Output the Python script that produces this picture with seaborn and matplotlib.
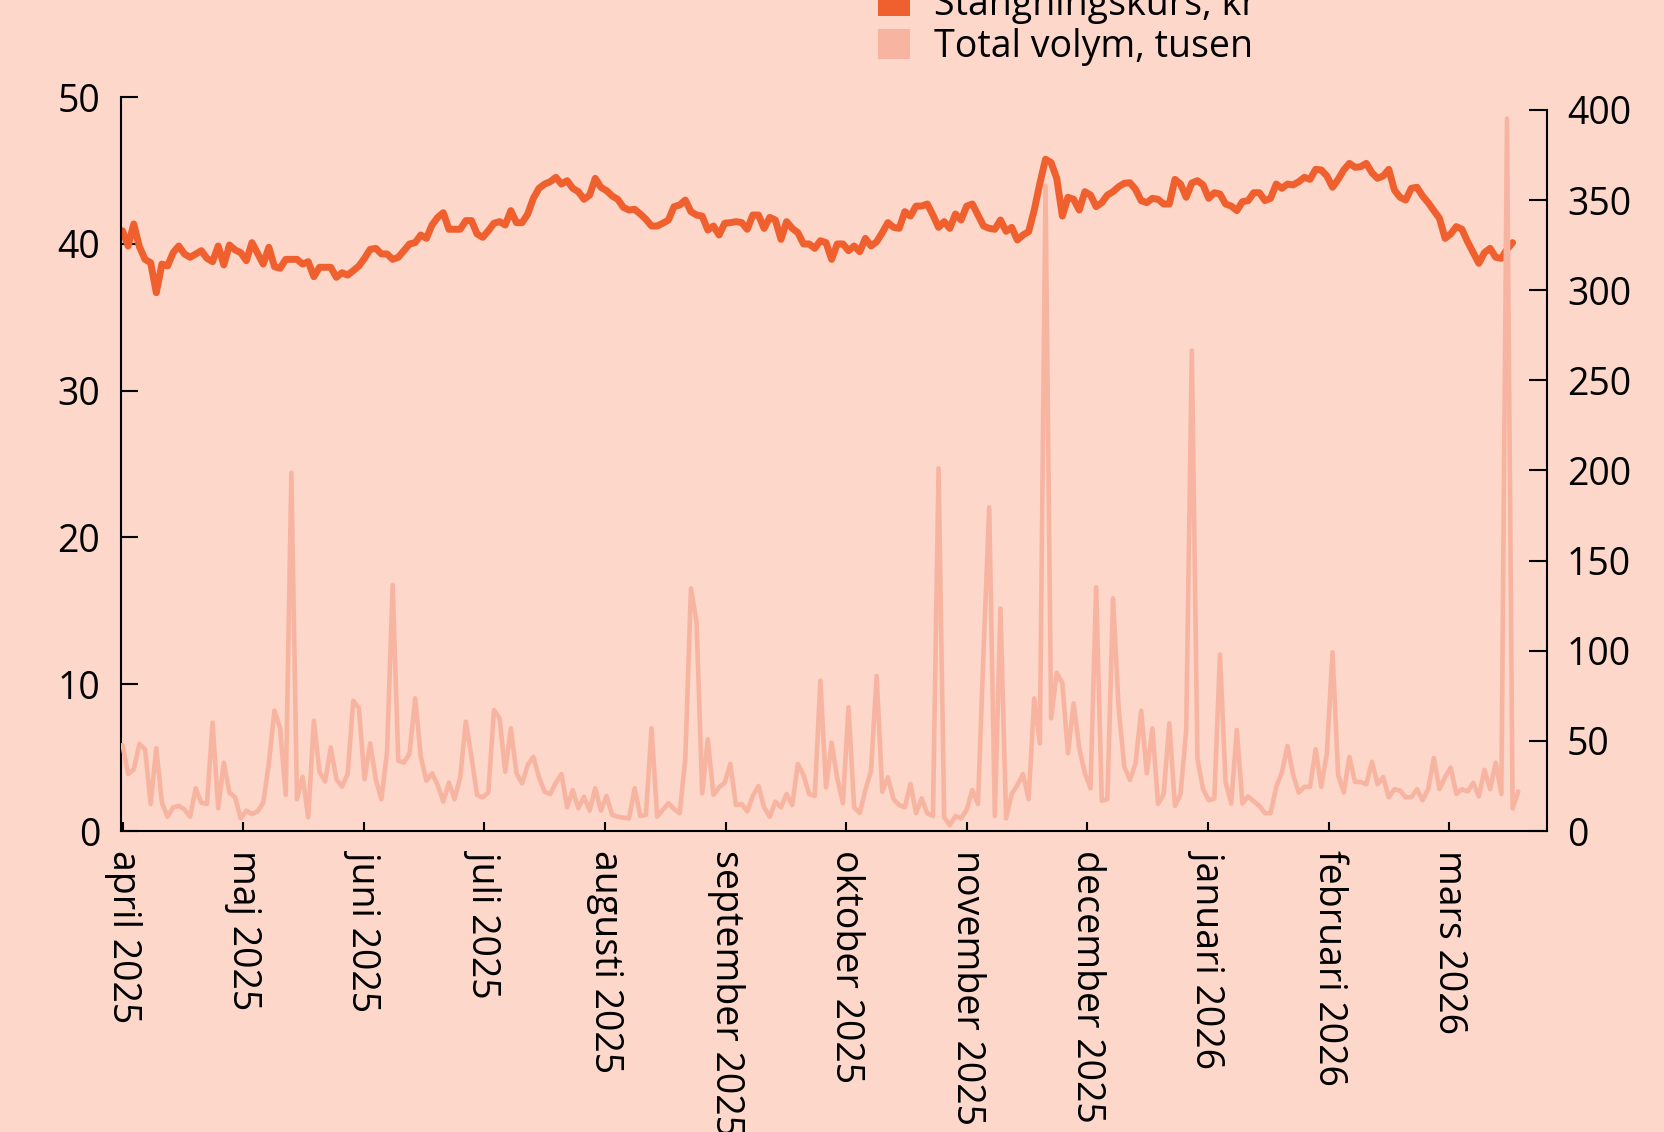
import numpy as np
import pandas as pd
import matplotlib
matplotlib.use("Agg")
import matplotlib.pyplot as plt
import seaborn as sns
from matplotlib.patches import Patch

# Month labels along the time axis
months = ["april 2025", "maj 2025", "juni 2025", "juli 2025", "augusti 2025",
          "september 2025", "oktober 2025", "november 2025", "december 2025",
          "januari 2026", "februari 2026", "mars 2026"]

# Daily closing price (kr), one value per trading day
price = [
    40.89, 39.85, 41.35, 39.80, 38.94, 38.71, 36.67, 38.62, 38.49, 39.40,
    39.85, 39.31, 39.08, 39.30, 39.53, 39.01, 38.78, 39.85, 38.56, 39.92,
    39.58, 39.40, 38.85, 40.08, 39.35, 38.62, 39.76, 38.44, 38.33, 38.94,
    38.94, 38.94, 38.62, 38.78, 37.76, 38.40, 38.40, 38.40, 37.72, 38.03,
    37.87, 38.17, 38.49, 39.01, 39.62, 39.69, 39.31, 39.31, 38.94, 39.08,
    39.53, 39.99, 40.08, 40.60, 40.37, 41.28, 41.80, 42.12, 40.99, 40.99,
    40.99, 41.58, 41.58, 40.67, 40.44, 40.89, 41.40, 41.51, 41.28, 42.26,
    41.44, 41.44, 42.03, 43.10, 43.78, 44.07, 44.23, 44.53, 44.07, 44.30,
    43.78, 43.55, 43.03, 43.32, 44.46, 43.85, 43.62, 43.26, 43.03, 42.48,
    42.30, 42.35, 42.03, 41.67, 41.21, 41.21, 41.40, 41.62, 42.53, 42.64,
    42.98, 42.19, 41.96, 41.89, 40.94, 41.21, 40.60, 41.40, 41.44, 41.51,
    41.45, 40.99, 41.96, 41.96, 41.05, 41.80, 41.62, 40.30, 41.51, 41.05,
    40.76, 39.99, 39.99, 39.69, 40.21, 40.08, 38.94, 39.99, 39.99, 39.53,
    39.85, 39.46, 40.37, 39.85, 40.14, 40.76, 41.44, 41.12, 41.05, 42.19,
    41.89, 42.57, 42.57, 42.71, 41.96, 41.12, 41.51, 41.05, 42.03, 41.62,
    42.57, 42.71, 41.96, 41.21, 41.05, 40.99, 41.62, 40.85, 41.12, 40.26,
    40.60, 40.82, 42.30, 44.12, 45.76, 45.53, 44.46, 41.89, 43.17, 43.03,
    42.30, 43.55, 43.32, 42.53, 42.80, 43.32, 43.55, 43.89, 44.12, 44.16,
    43.71, 42.94, 42.80, 43.10, 43.03, 42.71, 42.71, 44.39, 44.07, 43.17,
    44.14, 44.30, 44.01, 43.10, 43.48, 43.39, 42.71, 42.57, 42.26, 42.87,
    42.94, 43.48, 43.48, 42.94, 43.10, 44.07, 43.78, 44.07, 44.01, 44.23,
    44.53, 44.39, 45.07, 45.03, 44.62, 43.85, 44.39, 45.03, 45.48, 45.21,
    45.25, 45.48, 44.84, 44.46, 44.62, 45.07, 43.66, 43.17, 42.98, 43.78,
    43.85, 43.26, 42.80, 42.26, 41.74, 40.37, 40.67, 41.17, 40.99, 40.14,
    39.40, 38.67, 39.40, 39.69, 39.08, 39.01, 39.62, 40.08,
]

# Daily traded volume (thousands of shares)
volume = [
    47.7, 31.6, 34.2, 48.3, 45.3, 15.0, 45.9, 15.7, 7.9, 13.1,
    13.9, 12.0, 7.9, 23.7, 15.7, 15.0, 60.1, 12.6, 37.9, 21.3,
    18.7, 7.0, 11.3, 9.4, 10.9, 15.7, 37.5, 66.8, 57.0, 20.0,
    198.8, 17.6, 30.1, 7.6, 61.2, 32.9, 27.4, 46.4, 28.7, 24.6,
    31.6, 72.3, 68.1, 28.7, 48.6, 28.7, 17.6, 44.0, 136.5, 39.0,
    37.9, 43.1, 73.6, 41.2, 27.9, 32.0, 25.5, 16.3, 26.8, 17.6,
    29.8, 60.7, 41.2, 20.0, 18.7, 21.3, 67.1, 62.5, 32.9, 57.0,
    32.0, 26.4, 36.6, 41.2, 29.8, 21.8, 20.5, 26.8, 31.6, 13.1,
    22.7, 12.6, 19.0, 11.3, 23.7, 11.3, 19.4, 8.9, 7.9, 7.4,
    7.0, 23.7, 8.3, 8.9, 57.0, 7.9, 11.7, 15.4, 12.2, 9.8,
    40.3, 134.6, 116.1, 20.9, 50.9, 20.0, 24.2, 26.8, 37.2, 14.4,
    15.0, 10.9, 19.4, 25.0, 13.1, 7.9, 16.3, 13.1, 20.5, 14.4,
    37.2, 31.1, 20.5, 19.4, 83.4, 24.2, 49.0, 29.2, 15.4, 68.6,
    13.1, 10.0, 22.7, 33.5, 86.0, 21.8, 29.8, 17.6, 14.4, 13.1,
    26.1, 10.0, 18.1, 9.8, 8.3, 201.2, 7.6, 3.3, 8.3, 7.0,
    11.7, 22.7, 15.0, 100.0, 179.6, 8.3, 123.5, 7.0, 20.5, 25.5,
    31.6, 17.6, 73.6, 48.6, 358.0, 62.5, 87.8, 81.9, 43.1, 70.8,
    45.9, 32.0, 23.7, 135.2, 16.8, 17.6, 129.1, 68.1, 35.7, 28.3,
    37.5, 66.8, 32.0, 57.0, 15.0, 20.5, 59.7, 13.9, 20.5, 56.0,
    266.5, 40.0, 23.2, 17.1, 17.9, 97.9, 27.2, 15.2, 56.0, 15.2,
    19.2, 16.5, 13.9, 9.9, 9.9, 24.5, 32.5, 47.2, 31.2, 21.3,
    24.5, 24.5, 45.3, 24.5, 43.2, 99.2, 31.2, 21.3, 41.1, 27.2,
    27.2, 25.9, 38.4, 25.9, 29.9, 18.7, 23.2, 22.4, 18.7, 18.7,
    23.2, 17.1, 23.2, 40.5, 23.2, 29.9, 35.2, 20.5, 23.2, 21.9,
    26.7, 19.2, 33.9, 23.2, 37.9, 20.5, 395.2, 12.5, 21.9,
]

legend_labels = ["Stängningskurs, kr", "Total volym, tusen"]

BG = "#FCD7CA"
PRICE_C = "#F05F2E"
VOL_C = "#F7B5A1"
INK = "#000000"

# trading days per month on the time axis
DAYS_PER_MONTH = 21.43

sns.set_theme(style="ticks")
plt.rcParams["font.family"] = ["Open Sans", "DejaVu Sans"]
plt.rcParams.update({
    "axes.edgecolor": INK,
    "xtick.color": INK,
    "ytick.color": INK,
    "text.color": INK,
})

W, H = 1665, 1132
fig = plt.figure(figsize=(W / 100, H / 100), dpi=100, facecolor=BG)

left, right, bottom, top = 121, 1547.5, 831, 97
ax = fig.add_axes([left / W, 1 - bottom / H, (right - left) / W, (bottom - top) / H])
ax.set_facecolor(BG)

df_price = pd.DataFrame({"dag": np.arange(len(price)), "kurs": price})
df_vol = pd.DataFrame({"dag": np.arange(len(volume)), "volym": volume})

sns.lineplot(data=df_price, x="dag", y="kurs", ax=ax, color=PRICE_C,
             linewidth=5.0, solid_joinstyle="round", solid_capstyle="round")

ax2 = ax.twinx()
sns.lineplot(data=df_vol, x="dag", y="volym", ax=ax2, color=VOL_C,
             linewidth=3.3, solid_joinstyle="round", solid_capstyle="round")

# axis ranges: the volume axis spine stops at 400, a little below the top
ax.set_xlim(-0.27, 253.2)
ax.set_ylim(0, 50)
ax2.set_ylim(0, 400 * (bottom - top) / (bottom - 110))

ax.set_yticks(np.arange(0, 51, 10))
ax2.set_yticks(np.arange(0, 401, 50))
ax.set_xticks(np.arange(len(months)) * DAYS_PER_MONTH)
ax.set_xticklabels(months, rotation=270, ha="center", va="top")

for a in (ax, ax2):
    a.set_xlabel("")
    a.set_ylabel("")
    a.spines["top"].set_visible(False)

ax.spines["right"].set_visible(False)
ax2.spines["left"].set_visible(False)
ax2.spines["bottom"].set_visible(False)
ax2.spines["right"].set_bounds(0, 400)
for s in (ax.spines["left"], ax.spines["bottom"], ax2.spines["right"]):
    s.set_linewidth(1.5)
    s.set_color(INK)

FS = 27
ax.tick_params(axis="y", direction="in", length=12.2, width=1.5, pad=15, labelsize=FS)
ax.tick_params(axis="x", direction="in", length=6.5, width=1.5, pad=14, labelsize=FS)
ax2.tick_params(axis="y", direction="in", length=12.7, width=1.5, pad=14, labelsize=FS)

handles = [Patch(facecolor=PRICE_C, edgecolor="none", label=legend_labels[0]),
           Patch(facecolor=VOL_C, edgecolor="none", label=legend_labels[1])]
fig.legend(handles=handles, loc="lower left", bbox_to_anchor=(878 / W, 1 - 66 / H),
           frameon=False, fontsize=FS, handlelength=0.85, handleheight=0.83,
           handletextpad=0.64, labelspacing=0.12, borderpad=0, borderaxespad=0)

fig.savefig("out.png", dpi=100, facecolor=BG)
